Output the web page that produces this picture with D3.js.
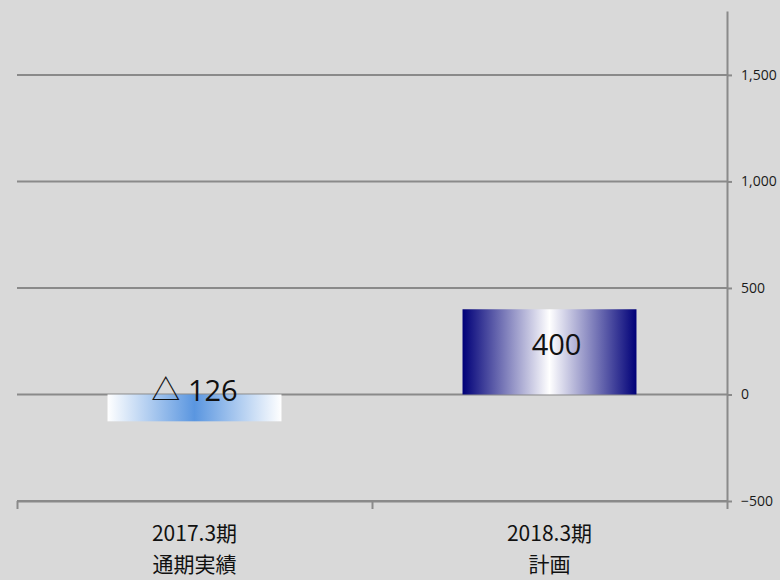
<!DOCTYPE html>
<html>
<head>
<meta charset="utf-8">
<script src="https://cdn.jsdelivr.net/npm/d3@7"></script>
<style>
  body { margin: 0; background: #d9d9d9; }
  svg { display: block; }
</style>
</head>
<body>
<div id="chart"></div>
<script>
const categories = [["2017.3期", "通期実績"], ["2018.3期", "計画"]];
const values = [-126, 400];
const valueLabels = ["△ 126", "400"];
const yTicks = [-500, 0, 500, 1000, 1500];

const W = 780, H = 580;
const plotLeft = 17, plotRight = 727, plotTop = 11, plotBottom = 501;

const svg = d3.select("#chart")
    .append("svg")
    .attr("width", W)
    .attr("height", H)
    .style("background", "#d9d9d9");

const defs = svg.append("defs");

// horizontal gradients like the Excel bar fills
function hGrad(id, edge, mid) {
    const g = defs.append("linearGradient")
        .attr("id", id)
        .attr("x1", "0%").attr("x2", "100%")
        .attr("y1", "0%").attr("y2", "0%");
    g.append("stop").attr("offset", "0%").attr("stop-color", edge);
    g.append("stop").attr("offset", "50%").attr("stop-color", mid);
    g.append("stop").attr("offset", "100%").attr("stop-color", edge);
}
hGrad("gradBlue", "#ffffff", "#5a96e0");
hGrad("gradNavy", "#000078", "#ffffff");
const fills = ["url(#gradBlue)", "url(#gradNavy)"];

const x = d3.scaleBand()
    .domain(d3.range(categories.length))
    .range([plotLeft, plotRight])
    .padding(0);

const y = d3.scaleLinear()
    .domain([-500, 1800])
    .range([plotBottom, plotTop]);

const gridColor = "#8a8a8a";

// gridlines
svg.append("g")
    .selectAll("line")
    .data(yTicks)
    .join("line")
    .attr("x1", plotLeft)
    .attr("x2", plotRight)
    .attr("y1", d => y(d))
    .attr("y2", d => y(d))
    .attr("stroke", gridColor)
    .attr("stroke-width", 2);

// bars
const barW = x.bandwidth() * 0.49;
svg.append("g")
    .selectAll("rect")
    .data(values)
    .join("rect")
    .attr("x", (d, i) => x(i) + (x.bandwidth() - barW) / 2)
    .attr("width", barW)
    .attr("y", d => y(Math.max(0, d)))
    .attr("height", d => Math.abs(y(d) - y(0)))
    .attr("fill", (d, i) => fills[i]);

// right axis
const yAxis = svg.append("g")
    .attr("transform", "translate(" + plotRight + ",0)")
    .call(d3.axisRight(y).tickValues(yTicks).tickSize(5).tickSizeOuter(0)
        .tickFormat(d3.format(",")));
yAxis.select(".domain")
    .attr("stroke", gridColor)
    .attr("stroke-width", 2);
yAxis.selectAll(".tick line")
    .attr("stroke", gridColor)
    .attr("stroke-width", 2);
yAxis.selectAll(".tick text")
    .attr("x", 14)
    .attr("fill", "#1a1a1a")
    .style("font-family", "'Open Sans', 'Noto Sans', sans-serif")
    .style("font-size", "14px");

// bottom axis with ticks at category boundaries
const bx = d3.scaleLinear().domain([0, categories.length]).range([plotLeft, plotRight]);
const xAxis = svg.append("g")
    .attr("transform", "translate(0," + plotBottom + ")")
    .call(d3.axisBottom(bx).tickValues(d3.range(categories.length + 1))
        .tickSize(8).tickSizeOuter(0).tickFormat(""));
xAxis.select(".domain")
    .attr("stroke", gridColor)
    .attr("stroke-width", 2);
xAxis.selectAll(".tick line")
    .attr("stroke", gridColor)
    .attr("stroke-width", 2);

// category labels
const catLabels = svg.append("g")
    .selectAll("text")
    .data(categories)
    .join("text")
    .attr("x", (d, i) => x(i) + x.bandwidth() / 2)
    .attr("y", 541)
    .attr("text-anchor", "middle")
    .attr("fill", "#111")
    .style("font-family", "'Noto Sans CJK JP', sans-serif")
    .style("font-size", "21px");
catLabels.selectAll("tspan")
    .data(d => d)
    .join("tspan")
    .attr("x", function () { return d3.select(this.parentNode).attr("x"); })
    .attr("dy", (d, i) => i === 0 ? 0 : 31)
    .text(d => d);

// value labels
svg.append("g")
    .selectAll("text")
    .data(values)
    .join("text")
    .attr("x", (d, i) => x(i) + x.bandwidth() / 2 + (i === 0 ? 0 : 7))
    .attr("y", (d, i) => i === 0 ? 401 : 355)
    .attr("text-anchor", "middle")
    .attr("fill", "#111")
    .style("font-family", "'Open Sans', 'Noto Sans CJK JP', sans-serif")
    .style("font-size", "29px")
    .text((d, i) => valueLabels[i]);
</script>
</body>
</html>
